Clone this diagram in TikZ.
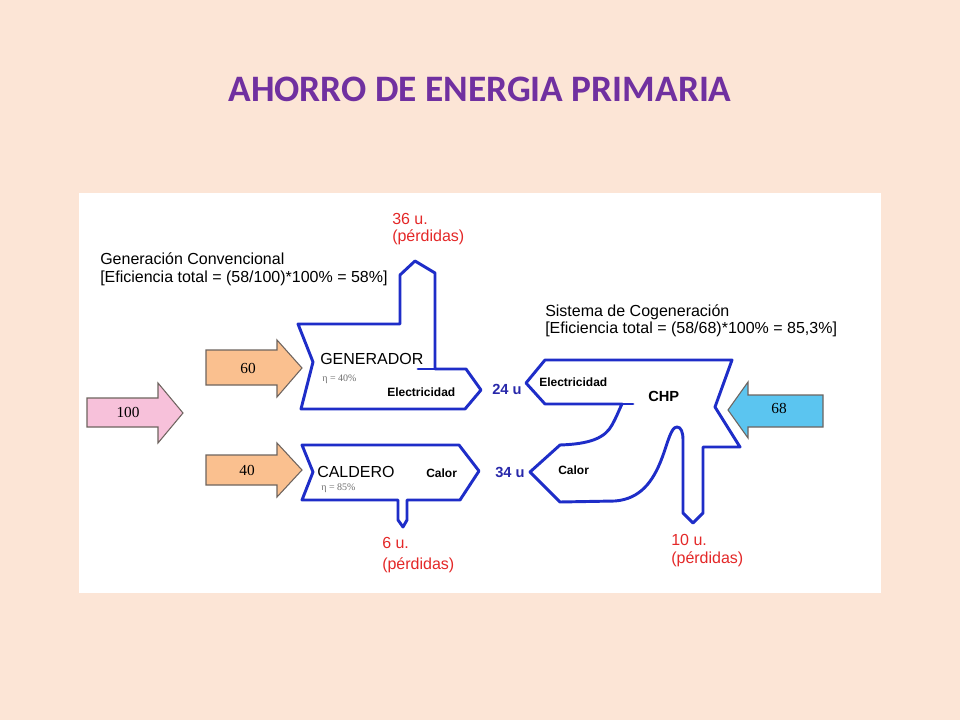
\documentclass[tikz,border=0pt]{standalone}
\usepackage{fontspec}
\setmainfont{Liberation Sans}
\newfontfamily\titlefont{Carlito}
\newfontfamily\numfont{Liberation Serif}
\definecolor{bgpeach}{RGB}{252,229,214}
\definecolor{titlepurple}{RGB}{112,48,160}
\definecolor{flowblue}{RGB}{30,45,200}
\definecolor{lossred}{RGB}{228,40,40}
\definecolor{valblue}{RGB}{40,40,170}
\definecolor{orangefill}{RGB}{250,192,143}
\definecolor{pinkfill}{RGB}{247,193,218}
\definecolor{cyanfill}{RGB}{91,197,240}
\definecolor{arrowedge}{RGB}{110,100,95}
\definecolor{etagray}{RGB}{110,110,110}
\tikzset{
  flow/.style={draw=flowblue, line width=2.2pt, line join=round, fill=white},
  flowline/.style={draw=flowblue, line width=2.2pt, line cap=round},
  bigarrow/.style={draw=arrowedge, line width=0.8pt, line join=miter},
  txt/.style={anchor=base west, inner sep=0pt, font=\fontsize{12}{14}\selectfont},
  loss/.style={txt, text=lossred, font=\fontsize{12}{14}\selectfont},
  inlbl/.style={anchor=base west, inner sep=0pt, font=\bfseries\fontsize{9}{11}\selectfont},
  unitlbl/.style={anchor=base west, inner sep=0pt, text=valblue, font=\bfseries\fontsize{11}{13}\selectfont},
  boxname/.style={anchor=base west, inner sep=0pt, font=\fontsize{12}{14}\selectfont},
  etalbl/.style={anchor=base west, inner sep=0pt, text=etagray, font=\numfont\fontsize{7.5}{9}\selectfont},
  arrnum/.style={inner sep=0pt, font=\numfont\fontsize{11.5}{13}\selectfont}
}
\begin{document}
\begin{tikzpicture}[x=0.75pt,y=-0.75pt]
\fill[bgpeach] (0,0) rectangle (960,720);
\useasboundingbox (0,0) rectangle (960,720);
\fill[white] (79,193) rectangle (881,593);

% title
\node[inner sep=0pt, text=titlepurple, font=\titlefont\bfseries\fontsize{28}{34}\selectfont] (title) at (480,89) {AHORRO DE ENERGIA PRIMARIA};

% input arrows
\draw[bigarrow, fill=pinkfill] (87,398) -- (158,398) -- (158,383) -- (183,413) -- (158,443) -- (158,427) -- (87,427) -- cycle;
\node[arrnum] (n100) at (128,412) {100};
\draw[bigarrow, fill=orangefill] (206,350) -- (277,350) -- (277,340) -- (302,368) -- (277,397) -- (277,385) -- (206,385) -- cycle;
\node[arrnum] (n60) at (248,368) {60};
\draw[bigarrow, fill=orangefill] (206,455) -- (277,455) -- (277,443) -- (302,470) -- (277,497) -- (277,485) -- (206,485) -- cycle;
\node[arrnum] (n40) at (247,470) {40};
\draw[bigarrow, fill=cyanfill] (823,395) -- (748,395) -- (748,382) -- (728,410) -- (748,438) -- (748,427) -- (823,427) -- cycle;
\node[arrnum] (n68) at (779,408) {68};

% generator
\draw[flow] (298,324) -- (313,362) -- (301,409) -- (465,409) -- (481,390) -- (466,369) -- (435,369) -- (435,273) -- (415,261) -- (400,275) -- (400,324) -- cycle;
\draw[flowline] (435,369) -- (418,369);

% caldero
\draw[flow] (302,445) -- (313,472) -- (302,500) -- (398,500) -- (398,520) -- (403,527) -- (407,520) -- (407,500) -- (460,500) -- (479,471) -- (459,445) -- cycle;

% CHP
\draw[flow] (545,360) -- (732,360) -- (715,407) -- (740,447) -- (703,447) -- (703,513) -- (693,523) -- (683,513) -- (683,440)
  .. controls (683,432) and (681,427) .. (677,427)
  .. controls (671,427) and (668,442) .. (662,458)
  .. controls (653,482) and (640,499) .. (615,501)
  -- (560,502) -- (530,472) -- (560,445)
  .. controls (590,444) and (605,438) .. (612,425)
  .. controls (617,416) and (619,410) .. (622,404)
  -- (545,404) -- (526,383) -- cycle;
\draw[flowline] (622,404) -- (633,404);

% texts left
\node[txt] (gc1) at (100,265) {Generación Convencional};
\node[txt] (gc2) at (100,283) {[Eficiencia total = (58/100)*100\% = 58\%]};
\node[loss] (l36a) at (392,225) {36 u.};
\node[loss] (l36b) at (392,242) {(pérdidas)};
\node[boxname] (gen) at (320,364) {GENERADOR};
\node[etalbl] (eta40) at (322,381) {η = 40\%};
\node[inlbl] (gelec) at (387,396) {Electricidad};
\node[unitlbl] (u24) at (492,394) {24 u};
\node[boxname] (cal) at (317,477) {CALDERO};
\node[inlbl] (calor1) at (426,477) {Calor};
\node[etalbl] (eta85) at (321,490) {η = 85\%};
\node[unitlbl] (u34) at (495,477) {34 u};
\node[loss] (l6a) at (382,548) {6 u.};
\node[loss] (l6b) at (382,569) {(pérdidas)};

% texts right
\node[txt] (sc1) at (545,316) {Sistema de Cogeneración};
\node[txt] (sc2) at (545,333) {[Eficiencia total = (58/68)*100\% = 85,3\%]};
\node[inlbl] (celec) at (539,386) {Electricidad};
\node[boxname, font=\bfseries\fontsize{11}{13}\selectfont] (chp) at (648,401) {CHP};
\node[inlbl] (calor2) at (558,474) {Calor};
\node[loss] (l10a) at (671,545) {10 u.};
\node[loss] (l10b) at (671,563) {(pérdidas)};
\end{tikzpicture}
\end{document}
